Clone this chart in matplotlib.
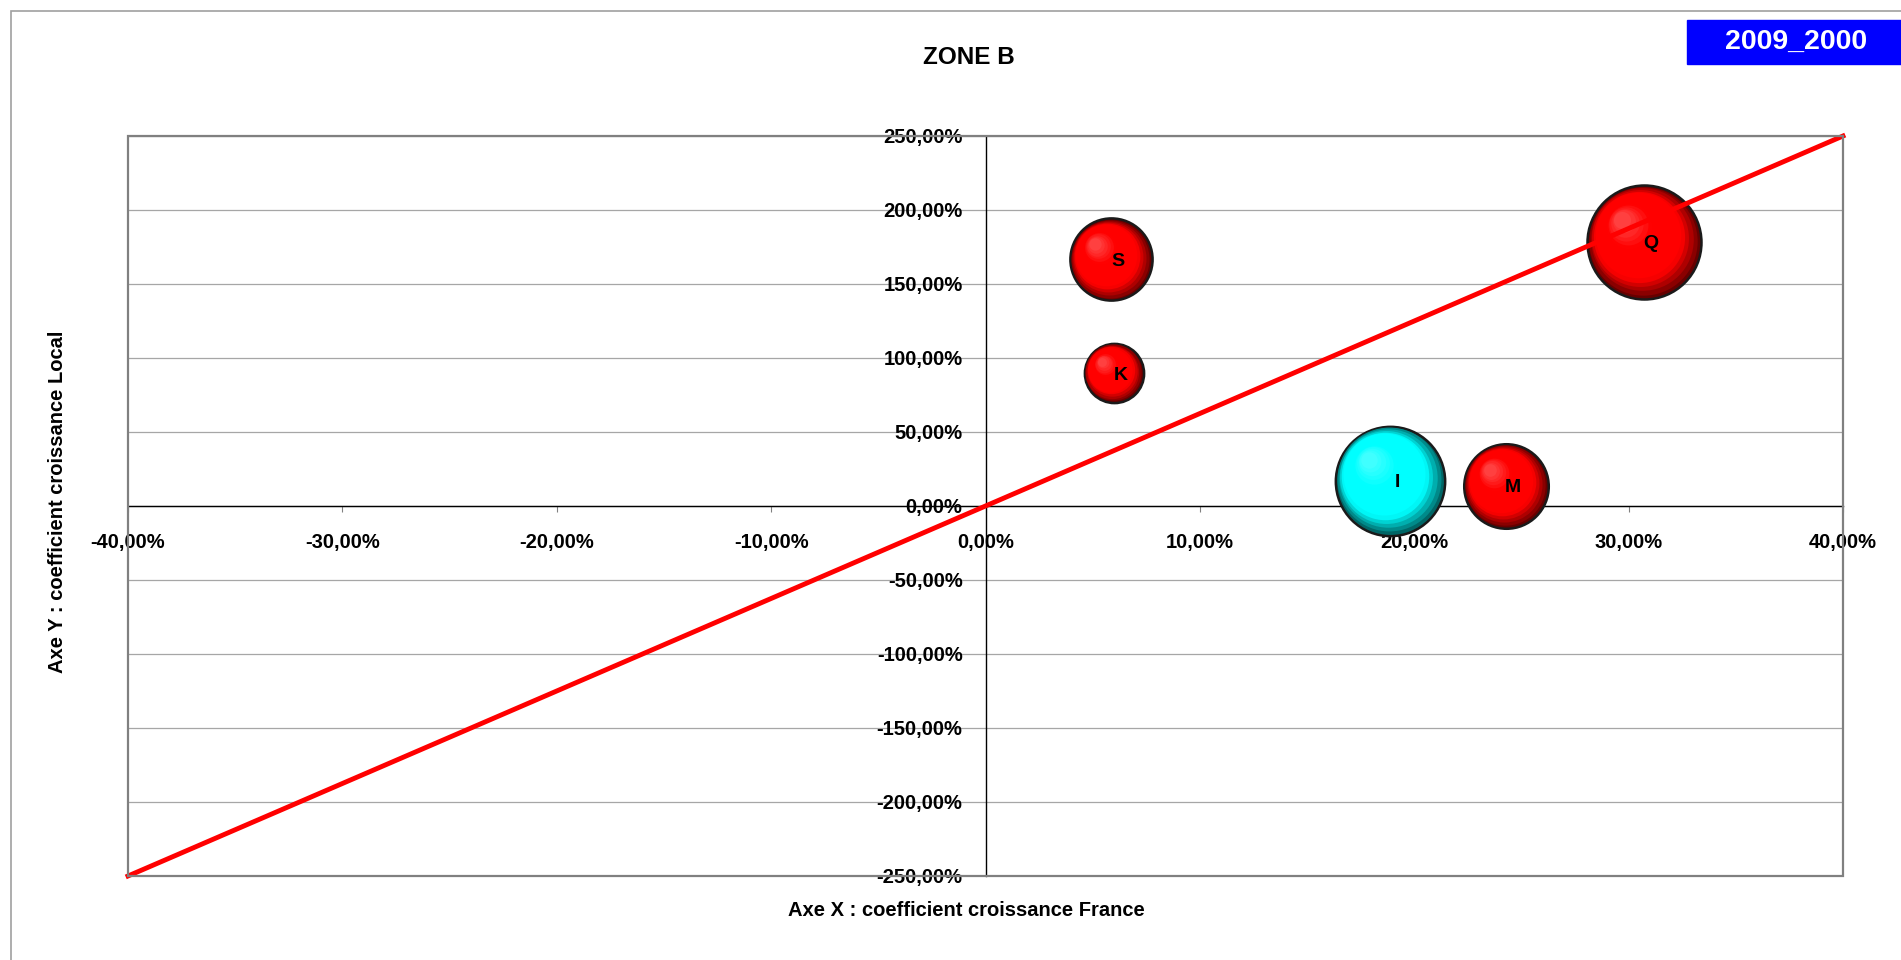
import numpy as np
import matplotlib.pyplot as plt
from matplotlib.patches import Rectangle
from matplotlib.ticker import FuncFormatter
from matplotlib.transforms import offset_copy
from matplotlib.colors import to_rgb

plt.rcParams['font.family'] = ['Liberation Sans', 'DejaVu Sans']

############################################################################
# data
names = ['S', 'K', 'Q', 'I', 'M']
x_france = [0.0586, 0.0598, 0.3073, 0.1887, 0.2428]   # Axe X
y_local = [1.666, 0.898, 1.785, 0.172, 0.137]         # Axe Y
bubble = [52, 27, 100, 92, 55]                        # bubble size (area)
colors = ['#ff0000', '#ff0000', '#ff0000', '#00ffff', '#ff0000']

ref_x = [-0.40, 0.40]     # red reference line
ref_y = [-2.50, 2.50]

x_ticks = [-0.40, -0.30, -0.20, -0.10, 0.0, 0.10, 0.20, 0.30, 0.40]
y_ticks = [-2.5, -2.0, -1.5, -1.0, -0.5, 0.0, 0.5, 1.0, 1.5, 2.0, 2.5]

title = 'ZONE B'
period = '2009_2000'
xlabel = 'Axe X : coefficient croissance France'
ylabel = 'Axe Y : coefficient croissance Local'
############################################################################

W, H = 1901, 960
fig = plt.figure(figsize=(W/100, H/100), dpi=100)
ax = fig.add_axes([128/W, 1 - 876/H, (1843-128)/W, (876-136)/H])
ax.set_xlim(x_ticks[0], x_ticks[-1])
ax.set_ylim(y_ticks[0], y_ticks[-1])

#outer chart frame
fig.patches.append(Rectangle((10.5/W, -0.05), 1.1, 1.05 - 10.7/H, transform=fig.transFigure,
                             fill=False, ec='#a0a0a0', lw=1.2))

#plot area frame + grid
ax.add_patch(Rectangle((0, 0), 1, 1, transform=ax.transAxes, fill=False,
                       ec='#808080', lw=1.6, clip_on=False, zorder=5))
ax.set_yticks(y_ticks)
ax.set_xticks(x_ticks)
ax.yaxis.grid(True, color='#a6a6a6', lw=0.9)
ax.set_axisbelow(True)

for s in ['top', 'right']:
    ax.spines[s].set_visible(False)
for s in ['bottom', 'left']:
    ax.spines[s].set_position('zero')
    ax.spines[s].set_color('black')
    ax.spines[s].set_linewidth(1.0)
    ax.spines[s].set_zorder(1)

pct = FuncFormatter(lambda v, p: f"{v*100:.2f}%".replace('.', ','))
ax.xaxis.set_major_formatter(pct)
ax.yaxis.set_major_formatter(pct)
ax.tick_params(axis='x', direction='out', length=4.5, width=0.8, color='#808080', pad=15,
               labelsize=14.5)
ax.tick_params(axis='y', length=0, pad=16.5, labelsize=14.5)
for lab in ax.get_xticklabels() + ax.get_yticklabels():
    lab.set_fontweight('bold')

#bubbles with a fake 3D shading
def mix(c, k):
    c = np.array(to_rgb(c))
    return tuple(c*(1+k)) if k < 0 else tuple(c + (1-c)*k)

r_max = 57*0.72  # radius in points of the biggest bubble
n_lay = 18
for i in range(len(names)):
    r = r_max*np.sqrt(bubble[i]/100)
    ax.scatter([x_france[i]], [y_local[i]], s=(2*r)**2, color=mix(colors[i], -0.6),
               edgecolors='#1a1a1a', linewidths=1.8, zorder=3)
    for j in range(1, n_lay):
        t = j/(n_lay-1)
        f = 1 - 0.85*t
        if t < 0.25:
            k = -0.6*(1 - t/0.25)
        elif t < 0.7:
            k = 0.0
        else:
            k = 0.25*(t - 0.7)/0.3
        tr = offset_copy(ax.transData, fig=fig, x=-0.45*(1-f)*r, y=0.45*(1-f)*r, units='points')
        ax.scatter([x_france[i]], [y_local[i]], s=(2*r*f)**2, color=mix(colors[i], k),
                   linewidths=0, transform=tr, zorder=3)
    ax.annotate(names[i], (x_france[i], y_local[i]), xytext=(5, -1.5), textcoords='offset points',
                ha='center', va='center', fontsize=14, fontweight='bold', zorder=6)

#red reference line
ax.plot(ref_x, ref_y, color='#ff0000', lw=3.5, zorder=4, clip_on=False)

#texts
fig.text(969/W, 1 - 57/H, title, ha='center', va='center', fontsize=17.5, fontweight='bold')
fig.text(966/W, 1 - 910/H, xlabel, ha='center', va='center', fontsize=14.5, fontweight='bold')
fig.text(57.5/W, 1 - 502/H, ylabel, ha='center', va='center', rotation=90, fontsize=14.5,
         fontweight='bold')
fig.patches.append(Rectangle((1687/W, 1 - 64/H), 0.2, 44/H, transform=fig.transFigure,
                             color='#0000ff', zorder=10))
fig.text(1796/W, 1 - 42/H, period, ha='center', va='center', color='white', fontsize=20.5,
         fontweight='bold', zorder=11)

fig.savefig('out.png', dpi=100)
